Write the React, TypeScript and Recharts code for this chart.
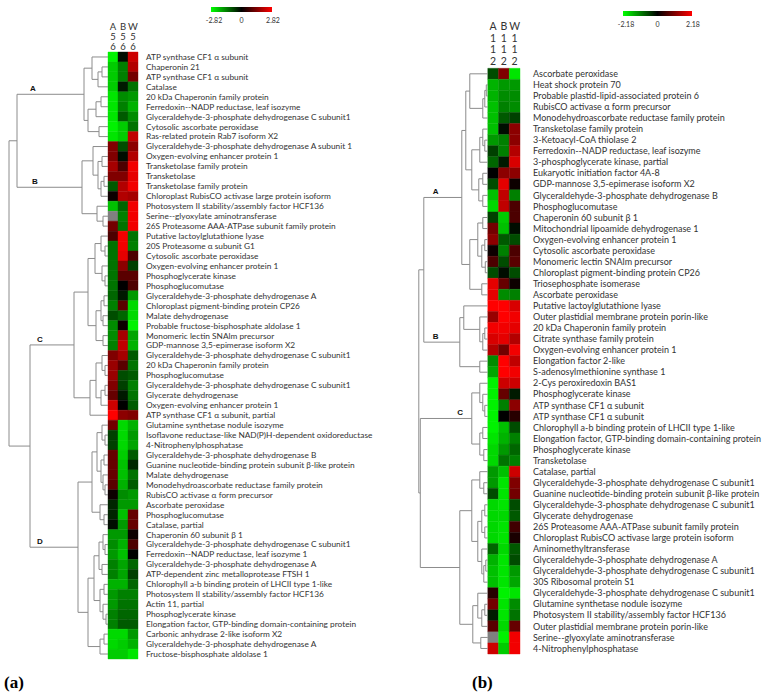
import React from 'react';
import { ScatterChart, Scatter, XAxis, YAxis, ReferenceArea, ReferenceLine } from 'recharts';

// ---------------- data: panel (a) ----------------
const samplesA = ['A56', 'B56', 'W56'];
const rangeA = 2.82;
const proteinsA = [
  'ATP synthase CF1 α subunit',
  'Chaperonin 21',
  'ATP synthase CF1 α subunit',
  'Catalase',
  '20 kDa Chaperonin family protein',
  'Ferredoxin--NADP reductase, leaf isozyme',
  'Glyceraldehyde-3-phosphate dehydrogenase C subunit1',
  'Cytosolic ascorbate peroxidase',
  'Ras-related protein Rab7 isoform X2',
  'Glyceraldehyde-3-phosphate dehydrogenase A subunit 1',
  'Oxygen-evolving enhancer protein 1',
  'Transketolase family protein',
  'Transketolase',
  'Transketolase family protein',
  'Chloroplast RubisCO activase large protein isoform',
  'Photosystem II stability/assembly factor HCF136',
  'Serine--glyoxylate aminotransferase',
  '26S Proteasome AAA-ATPase subunit family protein',
  'Putative lactoylglutathione lyase',
  '20S Proteasome α subunit G1',
  'Cytosolic ascorbate peroxidase',
  'Oxygen-evolving enhancer protein 1',
  'Phosphoglycerate kinase',
  'Phosphoglucomutase',
  'Glyceraldehyde-3-phosphate dehydrogenase A',
  'Chloroplast pigment-binding protein CP26',
  'Malate dehydrogenase',
  'Probable fructose-bisphosphate aldolase 1',
  'Monomeric lectin SNAlm precursor',
  'GDP-mannose 3,5-epimerase isoform X2',
  'Glyceraldehyde-3-phosphate dehydrogenase C subunit1',
  '20 kDa Chaperonin family protein',
  'Phosphoglucomutase',
  'Glyceraldehyde-3-phosphate dehydrogenase C subunit1',
  'Glycerate dehydrogenase',
  'Oxygen-evolving enhancer protein 1',
  'ATP synthase CF1 α subunit, partial',
  'Glutamine synthetase nodule isozyme',
  'Isoflavone reductase-like NAD(P)H-dependent oxidoreductase',
  '4-Nitrophenylphosphatase',
  'Glyceraldehyde-3-phosphate dehydrogenase B',
  'Guanine nucleotide-binding protein subunit β-like protein',
  'Malate dehydrogenase',
  'Monodehydroascorbate reductase family protein',
  'RubisCO activase α form precursor',
  'Ascorbate peroxidase',
  'Phosphoglucomutase',
  'Catalase, partial',
  'Chaperonin 60 subunit β 1',
  'Glyceraldehyde-3-phosphate dehydrogenase C subunit1',
  'Ferredoxin--NADP reductase, leaf isozyme 1',
  'Glyceraldehyde-3-phosphate dehydrogenase A',
  'ATP-dependent zinc metalloprotease FTSH 1',
  'Chlorophyll a-b binding protein of LHCII type 1-like',
  'Photosystem II stability/assembly factor HCF136',
  'Actin 11, partial',
  'Phosphoglycerate kinase',
  'Elongation factor, GTP-binding domain-containing protein',
  'Carbonic anhydrase 2-like isoform X2',
  'Glyceraldehyde-3-phosphate dehydrogenase A',
  'Fructose-bisphosphate aldolase 1',
];
const a56: (number | null)[] = [
  -2.68, -2.26, -2.26, -2.26, -2.54, -2.54, -2.54, -2.68, -2.54, 1.41,
  1.41, 1.83, 1.41, -0.99, 0.14, -2.12, null, 1.27, 0.85, -1.27,
  -1.27, -1.27, -1.27, -1.27, -1.13, -1.41, -0.85, -1.55, -1.55, -1.41,
  1.41, 1.69, 1.69, 1.41, 1.13, 2.26, 2.82, 1.27, -0.71, -0.71,
  1.13, 1.13, 1.13, 0.99, 0.14, -0.42, -0.42, -0.14, -1.69, -1.55,
  -1.69, -1.41, -1.41, -1.97, -1.69, -1.69, -1.41, -1.41, -2.4, -2.4,
  -2.26,
];
const b56: (number | null)[] = [
  -0.14, -1.41, -1.41, -0.28, -1.55, -1.41, -0.99, -2.26, -2.26, -0.85,
  -0.14, 0.85, 1.41, 1.97, 1.97, -1.13, -1.41, -1.27, 2.68, 2.68,
  2.54, 1.55, 0.99, 0, -0.28, 0.99, -1.13, 0.14, 1.83, 2.12,
  1.83, 0.99, -0.85, -0.71, -0.28, 0, 1.55, -2.4, -2.4, -2.4,
  -2.26, -2.12, -2.12, -1.97, -1.55, -1.69, -2.12, -1.69, -1.69, -1.97,
  -2.12, -1.83, -1.83, -1.97, -1.41, -1.27, -1.13, -0.99, -2.4, -2.26,
  -2.26,
];
const w56: (number | null)[] = [
  2.26, 1.97, 1.27, -1.27, -1.69, -1.97, -1.55, -1.27, 2.12, 1.55,
  1.97, 2.68, 2.54, 2.68, 1.83, 2.68, 2.68, 2.68, -1.27, -1.41,
  0.85, -0.71, 0.99, 0.85, -1.69, -2.4, -2.4, -2.68, -1.83, -1.97,
  -0.99, -1.27, -0.99, -1.41, -1.27, -0.99, 1.41, -1.97, -1.69, -1.83,
  -0.99, -0.42, -1.27, -0.99, -1.69, -1.69, 1.13, 1.13, 0.14, 0.85,
  0, -1.13, -0.71, -1.13, -1.41, -1.27, -1.13, -0.99, -1.69, -1.97,
  -2.54,
];

// ---------------- data: panel (b) ----------------
const samplesB = ['A112', 'B112', 'W112'];
const rangeB = 2.18;
const proteinsB = [
  'Ascorbate peroxidase',
  'Heat shock protein 70',
  'Probable plastid-lipid-associated protein 6',
  'RubisCO activase α form precursor',
  'Monodehydroascorbate reductase family protein',
  'Transketolase family protein',
  '3-Ketoacyl-CoA thiolase 2',
  'Ferredoxin--NADP reductase, leaf isozyme',
  '3-phosphoglycerate kinase, partial',
  'Eukaryotic initiation factor 4A-8',
  'GDP-mannose 3,5-epimerase isoform X2',
  'Glyceraldehyde-3-phosphate dehydrogenase B',
  'Phosphoglucomutase',
  'Chaperonin 60 subunit β 1',
  'Mitochondrial lipoamide dehydrogenase 1',
  'Oxygen-evolving enhancer protein 1',
  'Cytosolic ascorbate peroxidase',
  'Monomeric lectin SNAlm precursor',
  'Chloroplast pigment-binding protein CP26',
  'Triosephosphate isomerase',
  'Ascorbate peroxidase',
  'Putative lactoylglutathione lyase',
  'Outer plastidial membrane protein porin-like',
  '20 kDa Chaperonin family protein',
  'Citrate synthase family protein',
  'Oxygen-evolving enhancer protein 1',
  'Elongation factor 2-like',
  'S-adenosylmethionine synthase 1',
  '2-Cys peroxiredoxin BAS1',
  'Phosphoglycerate kinase',
  'ATP synthase CF1 α subunit',
  'ATP synthase CF1 α subunit',
  'Chlorophyll a-b binding protein of LHCII type 1-like',
  'Elongation factor, GTP-binding domain-containing protein',
  'Phosphoglycerate kinase',
  'Transketolase',
  'Catalase, partial',
  'Glyceraldehyde-3-phosphate dehydrogenase C subunit1',
  'Guanine nucleotide-binding protein subunit β-like protein',
  'Glyceraldehyde-3-phosphate dehydrogenase C subunit1',
  'Glycerate dehydrogenase',
  '26S Proteasome AAA-ATPase subunit family protein',
  'Chloroplast RubisCO activase large protein isoform',
  'Aminomethyltransferase',
  'Glyceraldehyde-3-phosphate dehydrogenase A',
  'Glyceraldehyde-3-phosphate dehydrogenase C subunit1',
  '30S Ribosomal protein S1',
  'Glyceraldehyde-3-phosphate dehydrogenase C subunit1',
  'Glutamine synthetase nodule isozyme',
  'Photosystem II stability/assembly factor HCF136',
  'Outer plastidial membrane protein porin-like',
  'Serine--glyoxylate aminotransferase',
  '4-Nitrophenylphosphatase',
];
const a112: (number | null)[] = [
  -0.65, -1.53, -1.53, -1.64, -1.64, -1.64, -1.31, -0.55, -0.87, 0,
  -0.65, -1.64, -1.85, -0.55, 0.98, 1.2, 0.11, 0.65, -0.65, 1.96,
  1.96, 2.18, 1.31, 2.07, 1.85, 1.53, -1.2, -1.42, -2.07, -2.07,
  -2.07, -2.07, -2.07, -1.96, -1.85, -1.85, -1.31, -1.31, -0.65, -1.85,
  -1.85, -1.85, -1.85, -0.87, -1.53, -1.64, -1.64, 0.33, 0.98, -0.22,
  0.76, null, 1.74,
];
const b112: (number | null)[] = [
  1.09, -1.31, -1.2, -1.09, -0.76, -0.11, -1.09, -1.09, -0.22, 1.2,
  1.96, 1.64, 1.64, -1.74, -1.64, -0.76, -1.09, -0.65, -0.11, 0.87,
  -1.2, 2.18, 2.18, 2.07, 1.96, 0.98, 2.18, 2.18, 1.74, 0.87,
  -1.09, 0, -1.64, -1.53, -1.31, -0.98, -1.64, -1.96, -1.96, -1.96,
  -1.85, -1.96, -1.96, -1.85, -1.96, -1.96, -1.96, -2.07, -1.96, -1.96,
  -1.85, -2.07, -1.74,
];
const w112: (number | null)[] = [
  -1.96, -1.31, -1.2, -1.2, -0.55, 1.2, 1.2, 1.53, 1.85, 1.2,
  0.11, -1.09, 0.65, 0.65, -0.11, -0.65, 0.65, 0.76, -0.65, 0.11,
  -1.09, 1.85, 2.07, 1.96, 1.53, 2.07, 1.64, 2.07, 1.74, -0.22,
  1.2, 0.33, -0.65, -1.09, -0.87, -1.09, 1.74, 1.09, 0.98, -0.65,
  -0.76, 0.55, 0.22, -0.76, -0.65, -1.31, -1.42, -1.96, -1.2, -0.98,
  0.87, 2.07, 2.07,
];

// ---------------- dendrograms (merge heights, leaves = row index) ----------------
type Tree = number | { h: number; c: Tree[]; label?: string };
const n = (h: number, c: Tree[], label?: string): Tree => ({ h, c, label });

const treeA: Tree = n(99, [
  n(91, [
    n(24, [
      n(16, [0, n(10, [n(6, [1, 2]), 3])]),
      n(20, [n(12, [n(7, [4, 5]), 6]), n(9, [7, 8])]),
    ], 'A'),
    n(26, [
      n(15, [9, n(10, [n(6, [10, 11]), n(7, [n(4, [12, 13]), 14])])]),
      n(11, [15, n(5, [16, 17])]),
    ], 'B'),
  ]),
  n(78, [
    n(34, [
      n(20, [
        n(13, [n(7, [18, n(3, [19, 20])]), n(6, [21, n(3, [22, 23])])]),
        n(12, [n(7, [n(4, [24, 25]), n(5, [26, 27])]), n(5, [28, 29])]),
      ]),
      n(18, [n(12, [n(6, [30, n(3, [31, 32])]), n(7, [n(3, [33, 34]), 35])]), 36]),
    ], 'C'),
    n(30, [
      n(16, [
        n(11, [n(6, [37, n(3, [38, 39])]), n(7, [n(4, [40, 41]), n(5, [42, n(3, [43, 44])])])]),
        n(8, [45, n(4, [46, 47])]),
      ]),
      n(20, [
        n(14, [
          n(9, [n(5, [48, n(3, [49, 50])]), n(6, [51, 52])]),
          n(8, [n(4, [53, 54]), n(5, [55, n(2, [56, 57])])]),
        ]),
        n(8, [n(4, [58, 59]), 60]),
      ]),
    ], 'D'),
  ]),
]);

const treeB: Tree = n(69, [
  n(64, [
    n(26, [
      n(22, [
        n(18, [0, n(5, [n(3, [n(1.5, [1, 2]), 3]), 4])]),
        n(16, [n(8, [n(5, [5, n(3, [6, 7])]), 8]), n(9, [n(5, [9, 10]), n(5, [11, 12])])]),
      ]),
      n(18, [n(10, [n(5, [13, 14]), n(6, [n(3, [15, 16]), n(2.5, [17, 18])])]), n(6, [19, 20])]),
    ], 'A'),
    n(28, [
      n(24, [21, n(8, [22, n(5, [n(3, [23, 24]), 25])])]),
      n(8, [26, 27]),
    ], 'B'),
  ]),
  n(67.5, [
    n(16, [n(8, [28, n(5, [29, n(3, [30, 31])])]), n(8, [n(5, [32, 33]), n(4, [34, 35])])], 'C'),
    n(28, [
      n(16, [n(8, [36, n(4, [37, 38])]), n(10, [n(6, [n(3, [39, 40]), n(3, [41, 42])]), n(6, [43, n(4, [n(2, [44, 45]), 46])])])]),
      n(15, [n(10, [47, n(6, [n(3, [48, 49]), 50])]), n(7, [51, 52])]),
    ]),
  ]),
]);

// ---------------- helpers ----------------
const cellColor = (v: number | null, max: number) => {
  if (v === null || v === undefined) return '#808080';
  const t = Math.max(-1, Math.min(1, v / max));
  const c = Math.round(255 * Math.abs(t));
  return t < 0 ? `rgb(0,${c},0)` : `rgb(${c},0,0)`;
};

interface Seg { x1: number; y1: number; x2: number; y2: number }
interface Lbl { name: string; x: number; y: number }

function layoutTree(tree: Tree, unit: number) {
  const segs: Seg[] = [];
  const labels: Lbl[] = [];
  const walk = (t: Tree): { x: number; y: number } => {
    if (typeof t === 'number') return { x: 0, y: t + 0.5 };
    const kids = t.c.map(walk);
    const x = -t.h / unit;
    const ys = kids.map((k) => k.y);
    const lo = Math.min(...ys);
    const hi = Math.max(...ys);
    segs.push({ x1: x, y1: lo, x2: x, y2: hi });
    kids.forEach((k, i) => {
      segs.push({ x1: x, y1: k.y, x2: k.x, y2: k.y });
      const c = t.c[i];
      if (typeof c !== 'number' && c.label) labels.push({ name: c.label, x, y: k.y });
    });
    return { x, y: (lo + hi) / 2 };
  };
  walk(tree);
  return { segs, labels };
}

interface PanelCfg {
  proteins: string[];
  columns: (number | null)[][];
  samples: string[];
  range: number;
  tree: Tree;
  width: number;
  height: number;
  plotTop: number;
  plotBottom: number;
  yAxisWidth: number;
  xMin: number;
  colPx: number;
  labelGap: number;
  labelFont: number;
  headerFont: number;
  headerLine: number;
  headerGap: number;
  clusterDx: Record<string, number>;
}

const FONT = 'Lato, "Open Sans", sans-serif';

function HeatPanel({ cfg }: { cfg: PanelCfg }) {
  const rows = cfg.proteins.length;
  const { segs, labels } = layoutTree(cfg.tree, cfg.colPx);
  const cells: { ci: number; ri: number; v: number | null }[] = [];
  cfg.columns.forEach((vals, ci) => vals.forEach((v, ri) => cells.push({ ci, ri, v })));
  const rowTicks = cfg.proteins.map((_, i) => i + 0.5);
  const colTicks = cfg.samples.map((_, i) => i + 0.5);
  const xAxisH = 20;

  const headerTick = (props: any) => {
    const { x, y, payload } = props;
    const name = cfg.samples[Math.floor(payload.value)] ?? '';
    const chars = name.split('');
    return (
      <g>
        {chars.map((ch, k) => (
          <text
            key={k}
            x={x}
            y={y - (chars.length - 1 - k) * cfg.headerLine}
            textAnchor="middle"
            fontSize={cfg.headerFont}
            fontFamily={FONT}
            fill="#333"
          >
            {ch}
          </text>
        ))}
      </g>
    );
  };

  const rowTick = (props: any) => {
    const { x, y, payload } = props;
    const name = cfg.proteins[Math.floor(payload.value)] ?? '';
    return (
      <text
        x={x}
        y={y}
        dy="0.35em"
        textAnchor="start"
        fontSize={cfg.labelFont}
        fontFamily={FONT}
        fill="#333"
      >
        {name}
      </text>
    );
  };

  const clusterShape = (props: any) => {
    const { cx, cy, payload } = props;
    return (
      <text
        x={cx + (cfg.clusterDx[payload.name] ?? 8)}
        y={cy - 3}
        fontSize={8}
        fontWeight="bold"
        fontFamily='"Liberation Sans", Arial, sans-serif'
        fill="#111"
      >
        {payload.name}
      </text>
    );
  };

  return (
    <ScatterChart
      width={cfg.width}
      height={cfg.height}
      margin={{ top: cfg.plotTop - xAxisH, right: 0, bottom: cfg.height - cfg.plotBottom, left: 0 }}
    >
      <XAxis
        type="number"
        dataKey="x"
        orientation="top"
        domain={[cfg.xMin, cfg.samples.length]}
        allowDataOverflow
        ticks={colTicks}
        interval={0}
        height={xAxisH}
        axisLine={false}
        tickLine={false}
        tickSize={0}
        tickMargin={cfg.headerGap}
        tick={headerTick}
      />
      <YAxis
        type="number"
        dataKey="y"
        orientation="right"
        domain={[0, rows]}
        reversed
        allowDataOverflow
        ticks={rowTicks}
        interval={0}
        width={cfg.yAxisWidth}
        axisLine={false}
        tickLine={false}
        tickSize={0}
        tickMargin={cfg.labelGap}
        tick={rowTick}
      />
      {cells.map((c) => {
        const col = cellColor(c.v, cfg.range);
        return (
          <ReferenceArea
            key={`c-${c.ci}-${c.ri}`}
            x1={c.ci}
            x2={c.ci + 1}
            y1={c.ri}
            y2={c.ri + 1}
            fill={col}
            fillOpacity={1}
            stroke={col}
            strokeWidth={0.4}
          />
        );
      })}
      {segs.map((s, i) => (
        <ReferenceLine
          key={`s-${i}`}
          segment={[{ x: s.x1, y: s.y1 }, { x: s.x2, y: s.y2 }]}
          stroke="#8c8c8c"
          strokeWidth={1}
        />
      ))}
      <Scatter data={labels} isAnimationActive={false} shape={clusterShape} />
    </ScatterChart>
  );
}

const panelA: PanelCfg = {
  proteins: proteinsA,
  columns: [a56, b56, w56],
  samples: samplesA,
  range: rangeA,
  tree: treeA,
  width: 378,
  height: 697,
  plotTop: 52,
  plotBottom: 659,
  yAxisWidth: 240,
  xMin: -10.8,
  colPx: 10,
  labelGap: 8,
  labelFont: 8.3,
  headerFont: 9.5,
  headerLine: 10,
  headerGap: 2.5,
  clusterDx: { A: 13, B: 15, C: 7, D: 7 },
};

const panelB: PanelCfg = {
  proteins: proteinsB,
  columns: [a112, b112, w112],
  samples: samplesB,
  range: rangeB,
  tree: treeB,
  width: 350,
  height: 697,
  plotTop: 68.3,
  plotBottom: 654,
  yAxisWidth: 248,
  xMin: -6.5,
  colPx: 10.74,
  labelGap: 13,
  labelFont: 9,
  headerFont: 10.5,
  headerLine: 11.7,
  headerGap: 3.3,
  clusterDx: { A: 9, B: 9, C: 37 },
};

function ColorBar({ left, top, width, height, max, labelTop }: { left: number; top: number; width: number; height: number; max: number; labelTop: number }) {
  const lbl = (text: string, x: number) => (
    <span
      style={{
        position: 'absolute',
        left: x,
        top: labelTop,
        transform: 'translate(-50%, -50%)',
        fontSize: 7,
        fontFamily: FONT,
        color: '#333',
        whiteSpace: 'nowrap',
      }}
    >
      {text}
    </span>
  );
  return (
    <>
      <div
        style={{
          position: 'absolute',
          left,
          top,
          width,
          height,
          background: 'linear-gradient(to right, rgb(0,255,0), #000 50%, rgb(255,0,0))',
        }}
      />
      {lbl(`-${max.toFixed(2)}`, left + 3)}
      {lbl('0', left + width / 2)}
      {lbl(max.toFixed(2), left + width + 1)}
    </>
  );
}

export default function App() {
  const panelLabel = (text: string, left: number) => (
    <span
      style={{
        position: 'absolute',
        left,
        top: 674,
        fontFamily: '"Liberation Serif", "Times New Roman", serif',
        fontWeight: 'bold',
        fontSize: 17,
        lineHeight: '17px',
        color: '#000',
      }}
    >
      {text}
    </span>
  );
  return (
    <div style={{ position: 'absolute', left: 0, top: 0, width: 768, height: 697, background: '#fff', overflow: 'hidden' }}>
      <div style={{ position: 'absolute', left: 0, top: 0 }}>
        <HeatPanel cfg={panelA} />
      </div>
      <div style={{ position: 'absolute', left: 418, top: 0 }}>
        <HeatPanel cfg={panelB} />
      </div>
      <ColorBar left={211} top={7} width={61} height={4.5} max={rangeA} labelTop={19.5} />
      <ColorBar left={623} top={11} width={69} height={4.7} max={rangeB} labelTop={23.5} />
      {panelLabel('(a)', 4)}
      {panelLabel('(b)', 472)}
    </div>
  );
}
